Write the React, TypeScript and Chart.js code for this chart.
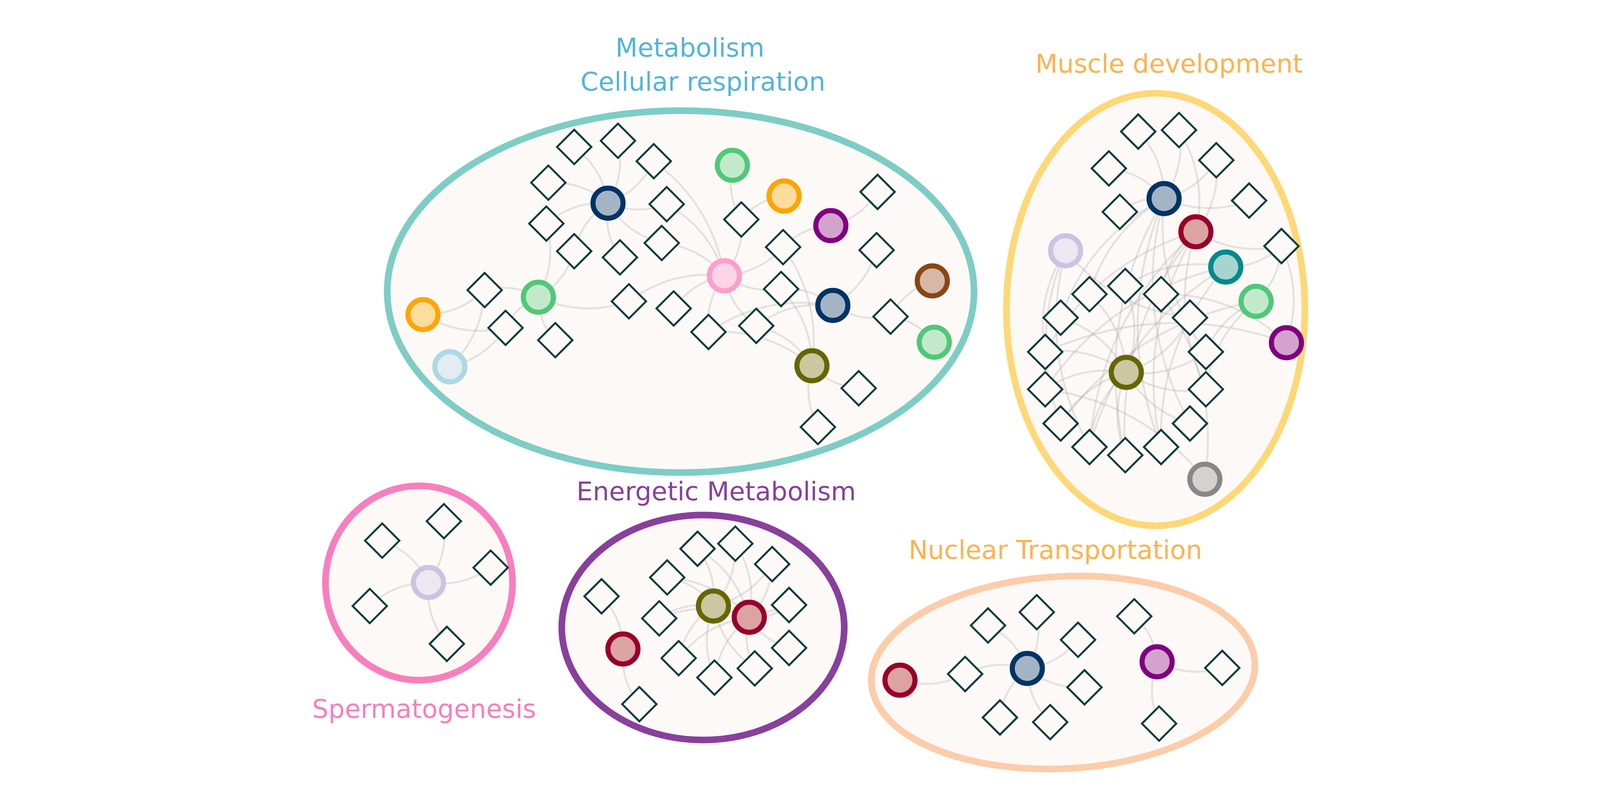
import { useEffect, useRef } from "react";
import Chart from "chart.js/auto";

// figure units (the whole page spans X_MAX x Y_MAX units)
const X_MAX = 1568;
const Y_MAX = 752.8;

// clusters (ellipses)
const clusterNames = ["Metabolism", "Muscle development", "Spermatogenesis", "Energetic Metabolism", "Nuclear Transportation"];
const clusterCenterX = [664, 1141.5, 401, 686.5, 1048.5];
const clusterCenterY = [265.5, 283, 550.5, 594, 638];
const clusterRadiusX = [295, 150, 94, 142, 193];
const clusterRadiusY = [177, 211.5, 95, 110, 94];
const clusterTilt = [0, 0, 0, 0, 3];

// cluster captions
const labelTexts = ["Metabolism", "Cellular respiration", "Muscle development", "Energetic Metabolism", "Nuclear Transportation", "Spermatogenesis"];
const labelX = [673.4, 686.4, 1155, 699.8, 1040.7, 406.1];
const labelY = [35.7, 69, 51.4, 469.5, 527, 682.2];

// hubs: [id, x, y, kind]
const metabolismHubs: [string, number, number, string][] = [
  ["mA", 591, 179, "navy"],
  ["mB", 716, 142, "green"],
  ["mC", 768, 172, "orange"],
  ["mD", 815, 201, "purple"],
  ["mE", 708, 250, "pink"],
  ["mF", 917, 255, "brown"],
  ["mG", 817, 279, "navy"],
  ["mH", 919, 315, "green"],
  ["mI", 796, 338, "olive"],
  ["mJ", 521, 271, "green"],
  ["mK", 405, 288, "orange"],
  ["mL", 432, 339, "lightblue"],
];
const muscleHubs: [string, number, number, string][] = [
  ["uA", 1150, 174.5, "navy"],
  ["uB", 1182, 207, "red"],
  ["uC", 1051, 225.5, "lavender"],
  ["uD", 1212, 241.5, "teal"],
  ["uE", 1242.5, 275, "green"],
  ["uF", 1273, 315.5, "purple"],
  ["uG", 1112, 344.5, "olive"],
  ["uH", 1191, 449, "gray"],
];
const spermHubs: [string, number, number, string][] = [["sA", 410.5, 550, "lavender"]];
const energeticHubs: [string, number, number, string][] = [
  ["eA", 697, 573, "olive"],
  ["eB", 733, 584, "red"],
  ["eC", 606, 615, "red"],
];
const nuclearHubs: [string, number, number, string][] = [
  ["nA", 884.5, 645.5, "red"],
  ["nB", 1012.5, 634, "navy"],
  ["nC", 1143, 627.5, "purple"],
];

// genes (diamonds): [id, x, y]
const metabolismGenes: [string, number, number][] = [
  ["m1", 557, 124], ["m2", 601, 118], ["m3", 637, 138], ["m4", 531, 159],
  ["m5", 529, 199], ["m6", 557, 226], ["m7", 603, 232], ["m8", 650, 180],
  ["m9", 645, 218], ["m10", 725, 195], ["m11", 862, 168], ["m12", 767, 222],
  ["m13", 861, 225], ["m14", 765, 263], ["m15", 612, 275], ["m16", 657, 282],
  ["m17", 692, 305], ["m18", 740, 299], ["m19", 875, 290], ["m20", 467, 264],
  ["m21", 488, 301], ["m22", 538, 313], ["m23", 843, 360], ["m24", 802, 398],
];
const muscleGenes: [string, number, number][] = [
  ["u1", 1124, 109], ["u2", 1165, 107.5], ["u3", 1094.5, 145], ["u4", 1202.5, 137],
  ["u5", 1105.5, 187.5], ["u6", 1235.5, 176.5], ["u7", 1268, 221], ["u8", 1075, 268],
  ["u9", 1111, 260], ["u10", 1147, 268], ["u11", 1046, 291], ["u12", 1176, 291],
  ["u13", 1030.5, 324.5], ["u14", 1192, 324.5], ["u15", 1030.5, 361], ["u16", 1192, 361],
  ["u17", 1046, 394.5], ["u18", 1176, 394.5], ["u19", 1075, 417.5], ["u20", 1111, 425.5],
  ["u21", 1147, 417.5],
];
const spermGenes: [string, number, number][] = [
  ["s1", 426, 490], ["s2", 364, 509], ["s3", 473, 535.5], ["s4", 351.5, 573], ["s5", 429, 610],
];
const energeticGenes: [string, number, number][] = [
  ["e1", 681, 517], ["e2", 719, 512], ["e3", 756, 532], ["e4", 650.5, 545],
  ["e5", 584.5, 563.5], ["e6", 642.5, 585], ["e7", 773, 572], ["e8", 773, 614],
  ["e9", 662, 624], ["e10", 698, 643], ["e11", 738.5, 634], ["e12", 622.5, 669],
];
const nuclearGenes: [string, number, number][] = [
  ["n1", 950, 639.5], ["n2", 973, 592], ["n3", 1022, 579], ["n4", 1063.5, 606],
  ["n5", 1070, 652.5], ["n6", 985, 682], ["n7", 1035.5, 686.5], ["n8", 1120, 583],
  ["n9", 1208.5, 633.5], ["n10", 1145, 688],
];

// links: [from, to]
const metabolismLinks: [string, string][] = [
  ["mA", "m1"], ["mA", "m2"], ["mA", "m3"], ["mA", "m4"], ["mA", "m5"], ["mA", "m6"],
  ["mA", "m7"], ["mA", "m8"], ["mA", "m9"],
  ["mE", "m3"], ["mE", "m8"], ["mE", "m10"], ["mE", "m12"], ["mE", "m14"], ["mE", "m9"],
  ["mE", "m15"], ["mE", "m16"], ["mE", "m17"], ["mE", "m18"],
  ["mB", "m10"], ["mC", "m10"], ["mD", "m11"], ["mD", "m12"],
  ["mI", "m12"], ["mI", "m14"], ["mG", "m13"], ["mG", "m14"], ["mG", "m17"], ["mG", "m18"],
  ["mG", "m19"], ["mF", "m19"], ["mH", "m19"], ["mI", "m17"], ["mI", "m18"], ["mI", "m23"], ["mI", "m24"],
  ["mJ", "m5"], ["mJ", "m6"], ["mJ", "m20"], ["mJ", "m21"], ["mJ", "m22"], ["mJ", "m15"],
  ["mK", "m20"], ["mK", "m21"], ["mL", "m20"], ["mL", "m21"],
];
const muscleLinks: [string, string][] = [
  ["uA", "u1"], ["uA", "u2"], ["uA", "u3"], ["uA", "u4"], ["uA", "u5"], ["uA", "u6"],
  ["uA", "u8"], ["uA", "u11"], ["uA", "u14"], ["uA", "u18"], ["uA", "u20"], ["uA", "u21"],
  ["uB", "u2"], ["uB", "u4"], ["uB", "u7"], ["uB", "u13"], ["uB", "u10"], ["uB", "u19"],
  ["uB", "u20"], ["uB", "u21"], ["uB", "u16"],
  ["uC", "u13"], ["uC", "u17"], ["uC", "u12"], ["uC", "u19"],
  ["uD", "u7"], ["uD", "u9"], ["uD", "u15"], ["uD", "u19"], ["uD", "u21"],
  ["uE", "u7"], ["uE", "u14"], ["uE", "u17"], ["uE", "u16"],
  ["uF", "u7"], ["uF", "u10"], ["uF", "u13"],
  ["uG", "u8"], ["uG", "u9"], ["uG", "u11"], ["uG", "u13"], ["uG", "u14"], ["uG", "u15"],
  ["uG", "u16"], ["uG", "u12"], ["uG", "u18"], ["uG", "u19"], ["uG", "u20"], ["uG", "u17"],
  ["uH", "u10"], ["uH", "u15"],
];
const spermLinks: [string, string][] = [
  ["sA", "s1"], ["sA", "s2"], ["sA", "s3"], ["sA", "s4"], ["sA", "s5"],
];
const energeticLinks: [string, string][] = [
  ["eC", "e5"], ["eC", "e12"],
  ["eA", "e1"], ["eA", "e2"], ["eA", "e3"], ["eA", "e4"], ["eA", "e6"], ["eA", "e7"],
  ["eA", "e9"], ["eA", "e10"], ["eA", "e11"],
  ["eB", "e1"], ["eB", "e2"], ["eB", "e3"], ["eB", "e4"], ["eB", "e6"], ["eB", "e7"],
  ["eB", "e8"], ["eB", "e9"], ["eB", "e10"], ["eB", "e11"],
];
const nuclearLinks: [string, string][] = [
  ["nA", "n1"], ["nB", "n1"], ["nB", "n2"], ["nB", "n3"], ["nB", "n4"], ["nB", "n5"],
  ["nB", "n6"], ["nB", "n7"], ["nC", "n8"], ["nC", "n9"], ["nC", "n10"],
];

// ---- styles ----
const clusterColors = ["#7ecdc5", "#fed877", "#f77fbe", "#88409c", "#fdcca9"];
const labelColors = ["#52b5d6", "#52b5d6", "#feb24f", "#88409c", "#feb24f", "#f77fbe"];
const hubStyles: Record<string, { border: string; fill: string }> = {
  navy: { border: "#003366", fill: "#a5b4c4" },
  green: { border: "#50c878", fill: "#c3e9cb" },
  orange: { border: "#ffa500", fill: "#fedc9e" },
  purple: { border: "#800080", fill: "#d3a3cd" },
  pink: { border: "#ff9ecb", fill: "#fed5e6" },
  brown: { border: "#8b4513", fill: "#d6b8a7" },
  olive: { border: "#666600", fill: "#cbc7a1" },
  lightblue: { border: "#add8e6", fill: "#e2edf1" },
  red: { border: "#990029", fill: "#dba3a1" },
  lavender: { border: "#cbc3e3", fill: "#ece7f0" },
  teal: { border: "#008b8b", fill: "#a7d4d1" },
  gray: { border: "#888888", fill: "#d4d1ce" },
};
const PAPER = "#fdf9f7";
const GENE_EDGE = "#0d3b3b";
const LINK_COLOR = "rgba(175, 170, 165, 0.3)";
const LINK_BEND = 0.2;

const allHubs = [...metabolismHubs, ...muscleHubs, ...spermHubs, ...energeticHubs, ...nuclearHubs];
const allGenes = [...metabolismGenes, ...muscleGenes, ...spermGenes, ...energeticGenes, ...nuclearGenes];
const allLinks = [...metabolismLinks, ...muscleLinks, ...spermLinks, ...energeticLinks, ...nuclearLinks];

const positions: Record<string, [number, number]> = {};
allHubs.forEach(([id, x, y]) => (positions[id] = [x, y]));
allGenes.forEach(([id, x, y]) => (positions[id] = [x, y]));

const backdropPlugin = {
  id: "backdrop",
  beforeDatasetsDraw(chart: any) {
    const { ctx } = chart;
    const xs = chart.scales.x;
    const ys = chart.scales.y;
    // cluster ellipses
    clusterNames.forEach((_, i) => {
      const cx = xs.getPixelForValue(clusterCenterX[i]);
      const cy = ys.getPixelForValue(clusterCenterY[i]);
      const rx = Math.abs(xs.getPixelForValue(clusterCenterX[i] + clusterRadiusX[i]) - cx);
      const ry = Math.abs(ys.getPixelForValue(clusterCenterY[i] + clusterRadiusY[i]) - cy);
      ctx.save();
      ctx.beginPath();
      ctx.ellipse(cx, cy, rx, ry, (-clusterTilt[i] * Math.PI) / 180, 0, Math.PI * 2);
      ctx.fillStyle = PAPER;
      ctx.fill();
      ctx.lineWidth = 17;
      ctx.strokeStyle = clusterColors[i];
      ctx.stroke();
      ctx.restore();
    });
    // links, slightly arced
    ctx.save();
    ctx.strokeStyle = LINK_COLOR;
    ctx.lineWidth = 5;
    ctx.lineCap = "round";
    allLinks.forEach(([a, b]) => {
      const pa = positions[a];
      const pb = positions[b];
      if (!pa || !pb) return;
      const x1 = xs.getPixelForValue(pa[0]);
      const y1 = ys.getPixelForValue(pa[1]);
      const x2 = xs.getPixelForValue(pb[0]);
      const y2 = ys.getPixelForValue(pb[1]);
      const dx = x2 - x1;
      const dy = y2 - y1;
      const qx = (x1 + x2) / 2 - LINK_BEND * dy;
      const qy = (y1 + y2) / 2 + LINK_BEND * dx;
      ctx.beginPath();
      ctx.moveTo(x1, y1);
      ctx.quadraticCurveTo(qx, qy, x2, y2);
      ctx.stroke();
    });
    ctx.restore();
  },
  afterDatasetsDraw(chart: any) {
    const { ctx } = chart;
    const xs = chart.scales.x;
    const ys = chart.scales.y;
    ctx.save();
    ctx.font = "66px 'DejaVu Sans'";
    ctx.textAlign = "center";
    ctx.textBaseline = "alphabetic";
    labelTexts.forEach((t, i) => {
      ctx.fillStyle = labelColors[i];
      ctx.fillText(t, xs.getPixelForValue(labelX[i]), ys.getPixelForValue(labelY[i]));
    });
    ctx.restore();
  },
};

export default function App() {
  const canvasRef = useRef<HTMLCanvasElement | null>(null);

  useEffect(() => {
    if (!canvasRef.current) return;
    const ctx = canvasRef.current.getContext("2d");
    if (!ctx) return;

    const kinds = Array.from(new Set(allHubs.map((h) => h[3])));
    const hubSets = kinds.map((k) => ({
      label: k,
      data: allHubs.filter((h) => h[3] === k).map(([, x, y]) => ({ x, y })),
      pointStyle: "circle" as const,
      pointRadius: 38.5,
      pointBorderWidth: 13,
      pointBackgroundColor: hubStyles[k].fill,
      pointBorderColor: hubStyles[k].border,
      showLine: false,
      clip: false as const,
    }));
    const geneSet = {
      label: "genes",
      data: allGenes.map(([, x, y]) => ({ x, y })),
      pointStyle: "rectRot" as const,
      pointRadius: 44,
      pointBorderWidth: 5,
      pointBackgroundColor: PAPER,
      pointBorderColor: GENE_EDGE,
      showLine: false,
      clip: false as const,
    };

    const chart = new Chart(ctx, {
      type: "scatter",
      data: { datasets: [...hubSets, geneSet] },
      options: {
        animation: false,
        responsive: true,
        maintainAspectRatio: false,
        devicePixelRatio: 1,
        events: [],
        layout: { padding: 0 },
        scales: {
          x: { type: "linear", min: 0, max: X_MAX, display: false },
          y: { type: "linear", min: 0, max: Y_MAX, reverse: true, display: false },
        },
        plugins: {
          legend: { display: false },
          tooltip: { enabled: false },
        },
      },
      plugins: [backdropPlugin],
    });
    return () => {
      chart.destroy();
    };
  }, []);

  return (
    <div style={{ position: "fixed", left: 0, top: 0, width: "100vw", height: "100vh", background: "#ffffff" }}>
      <canvas ref={canvasRef} />
    </div>
  );
}
